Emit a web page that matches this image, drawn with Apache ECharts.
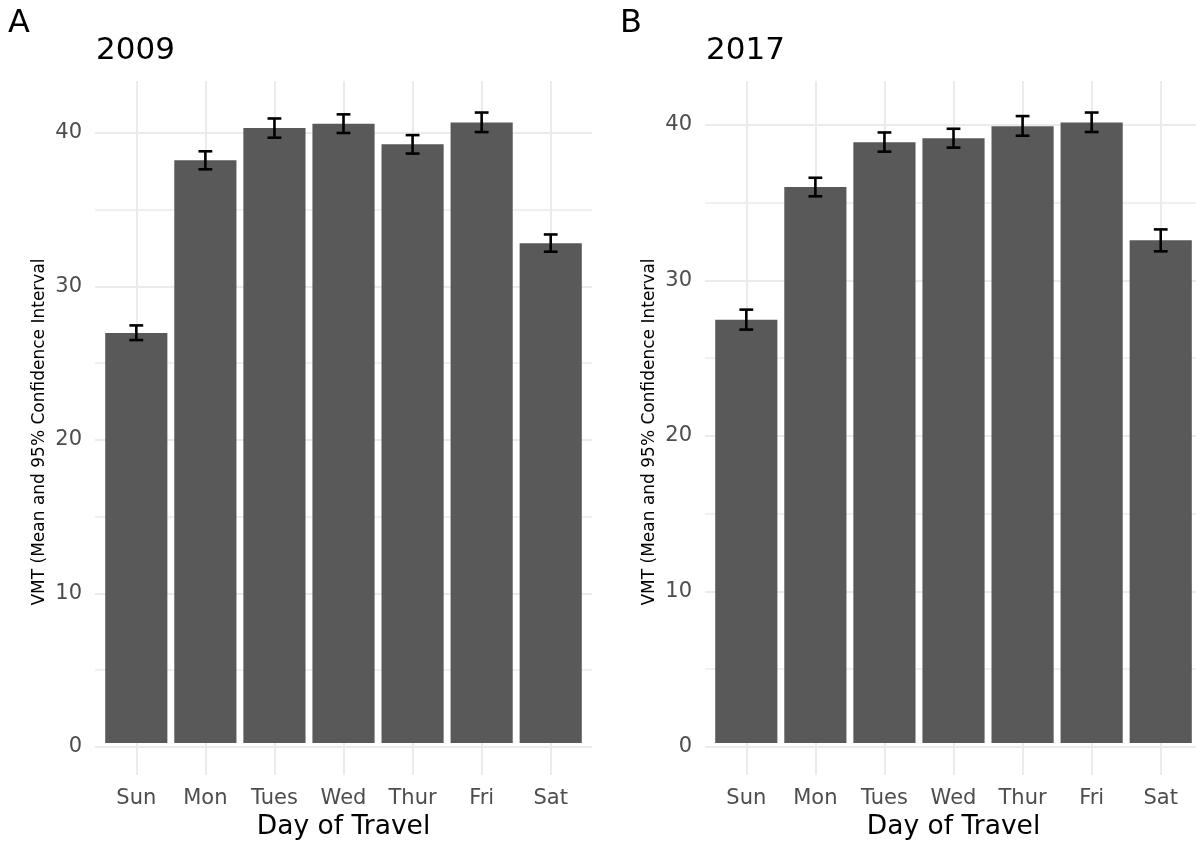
<!DOCTYPE html>
<html>
<head>
<meta charset="utf-8">
<script src="https://cdn.jsdelivr.net/npm/echarts@6/dist/echarts.min.js"></script>
<style>
  html, body { margin: 0; padding: 0; background: #ffffff; }
  #main { width: 1196px; height: 846px; }
</style>
</head>
<body>
<div id="main"></div>
<script>
// Vehicle miles travelled by day of week, mean with 95% confidence interval
const days = ['Sun', 'Mon', 'Tues', 'Wed', 'Thur', 'Fri', 'Sat'];

const mean2009  = [26.88, 38.20, 40.30, 40.58, 39.24, 40.67, 32.76];
const lower2009 = [26.41, 37.60, 39.67, 39.98, 38.63, 40.04, 32.20];
const upper2009 = [27.37, 38.78, 40.93, 41.20, 39.84, 41.32, 33.33];

const mean2017  = [27.38, 35.97, 38.86, 39.12, 39.90, 40.14, 32.52];
const lower2017 = [26.75, 35.37, 38.26, 38.52, 39.29, 39.53, 31.81];
const upper2017 = [28.04, 36.57, 39.50, 39.74, 40.56, 40.79, 33.23];

const yTicks = [0, 10, 20, 30, 40];

const FONT = 'DejaVu Sans';
const GRID_COLOR = '#EBEBEB';
const BAR_COLOR = '#595959';
const TICK_TEXT = '#4D4D4D';

// top of the value range: the highest upper bound plus 5% headroom
function rangeMax(upper) { return Math.max(...upper) * 1.05; }

const max2009 = rangeMax(upper2009);
const max2017 = rangeMax(upper2017);

// panel geometry: background grid carries the y scale across the whole panel,
// the inner grid spans first to last category centre
const panels = [
  { bgLeft: 95,  barLeft: 136.3, max: max2009 },
  { bgLeft: 705, barLeft: 746.3, max: max2017 }
];
const TOP = 81, HEIGHT = 666, BAND = 69.07;

const grid = [], xAxis = [], yAxis = [];
panels.forEach((p, k) => {
  grid.push({ left: p.bgLeft, top: TOP, width: BAND * 7.2, height: HEIGHT });
  grid.push({ left: p.barLeft, top: TOP, width: BAND * 6, height: HEIGHT });

  xAxis.push({ gridIndex: 2 * k, type: 'value', min: 0, max: 1, show: false });
  xAxis.push({
    gridIndex: 2 * k + 1,
    type: 'category',
    data: days,
    boundaryGap: false,
    axisLine: { show: false },
    axisTick: { show: true, interval: 0, length: 32, lineStyle: { color: GRID_COLOR, width: 2 } },
    axisLabel: { interval: 0, margin: 45, color: TICK_TEXT, fontSize: 21, fontFamily: FONT },
    splitLine: { show: true, interval: 0, lineStyle: { color: GRID_COLOR, width: 2 } },
    name: 'Day of Travel',
    nameLocation: 'middle',
    nameGap: 70,
    nameTextStyle: { color: '#000000', fontSize: 26.5, fontFamily: FONT }
  });

  yAxis.push({
    gridIndex: 2 * k,
    type: 'value',
    min: 0,
    max: p.max,
    interval: 10,
    axisLine: { show: false },
    axisTick: { show: false },
    axisLabel: {
      margin: 13, color: TICK_TEXT, fontSize: 21, fontFamily: FONT,
      showMaxLabel: false,
      formatter: v => (yTicks.includes(v) ? String(v) : '')
    },
    splitLine: { show: true, showMaxLine: false, lineStyle: { color: GRID_COLOR, width: 2 } },
    minorTick: { show: false, splitNumber: 2 },
    minorSplitLine: { show: true, lineStyle: { color: GRID_COLOR, width: 1.6 } }
  });
  yAxis.push({ gridIndex: 2 * k + 1, type: 'value', min: 0, max: p.max, show: false });
});

function errorBarSeries(axisIdx, lower, upper) {
  return {
    type: 'custom',
    xAxisIndex: axisIdx,
    yAxisIndex: axisIdx,
    silent: true,
    z: 5,
    data: days.map((d, i) => [i, lower[i], upper[i]]),
    encode: { x: 0, y: [1, 2] },
    renderItem: function (params, api) {
      const i = api.value(0);
      const lo = api.coord([i, api.value(1)]);
      const hi = api.coord([i, api.value(2)]);
      const half = api.size([1, 0])[0] * 0.1;
      const style = { stroke: '#000000', lineWidth: 2.6 };
      return {
        type: 'group',
        children: [
          { type: 'line', shape: { x1: lo[0], y1: lo[1], x2: hi[0], y2: hi[1] }, style: style },
          { type: 'line', shape: { x1: lo[0] - half, y1: lo[1], x2: lo[0] + half, y2: lo[1] }, style: style },
          { type: 'line', shape: { x1: hi[0] - half, y1: hi[1], x2: hi[0] + half, y2: hi[1] }, style: style }
        ]
      };
    }
  };
}

function barSeries(axisIdx, values) {
  return {
    type: 'bar',
    xAxisIndex: axisIdx,
    yAxisIndex: axisIdx,
    data: values,
    barWidth: '90%',
    clip: false,
    silent: true,
    itemStyle: { color: BAR_COLOR }
  };
}

const yTitle = 'VMT (Mean and 95% Confidence Interval';

function label(text, x, y, size, opts) {
  return Object.assign({
    type: 'text',
    x: x, y: y,
    silent: true,
    style: {
      text: text,
      fill: '#000000',
      font: size + 'px "' + FONT + '"',
      textAlign: 'left', align: 'left',
      textVerticalAlign: 'middle', verticalAlign: 'middle'
    }
  }, opts || {});
}

function rotatedLabel(text, x, y, size) {
  const el = label(text, x, y, size, { rotation: Math.PI / 2 });
  el.style.textAlign = 'center';
  el.style.align = 'center';
  return el;
}

const option = {
  backgroundColor: '#ffffff',
  animation: false,
  grid: grid,
  xAxis: xAxis,
  yAxis: yAxis,
  series: [
    barSeries(1, mean2009),
    errorBarSeries(1, lower2009, upper2009),
    barSeries(3, mean2017),
    errorBarSeries(3, lower2017, upper2017)
  ],
  graphic: [
    label('A', 8, 24, 32),
    label('2009', 96, 51, 31),
    label('B', 620, 24, 32),
    label('2017', 706, 51, 31),
    rotatedLabel(yTitle, 39.5, 432, 17),
    rotatedLabel(yTitle, 650, 432, 17)
  ]
};

const chart = echarts.init(document.getElementById('main'), null, { renderer: 'canvas' });
chart.setOption(option);
</script>
</body>
</html>
